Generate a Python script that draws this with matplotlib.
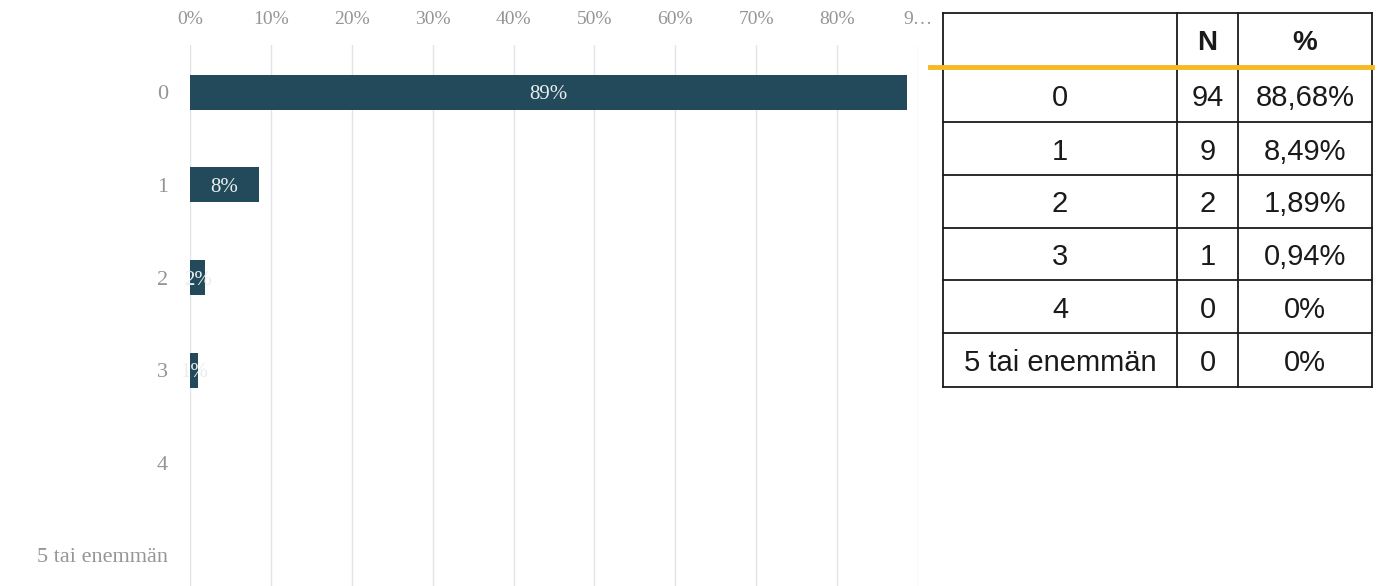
import matplotlib.pyplot as plt
from matplotlib.lines import Line2D

categories = ['0', '1', '2', '3', '4', '5 tai enemmän']
counts = [94, 9, 2, 1, 0, 0]
percents = [88.68, 8.49, 1.89, 0.94, 0, 0]
xticks = [0, 10, 20, 30, 40, 50, 60, 70, 80, 90]
xtick_labels = ['0%', '10%', '20%', '30%', '40%', '50%', '60%', '70%', '80%', '9…']
table_header = ['', 'N', '%']

W, H = 1378, 586
bar_color = '#234a5b'
label_gray = '#959595'
serif = ['Liberation Serif', 'DejaVu Serif']
sans = ['Liberation Sans', 'DejaVu Sans']

fig = plt.figure(figsize=(W / 100, H / 100), dpi=100)

# bar chart
ax = fig.add_axes([190 / W, 0, (918 - 190) / W, 1 - 45 / H])
ypos = list(range(len(categories)))
bars = ax.barh(ypos, percents, height=0.38, color=bar_color, zorder=3)
ax.set_xlim(0, 90)
ax.set_ylim(5.33, -0.51)
ax.set_xticks(xticks)
ax.set_xticklabels(xtick_labels, family=serif, fontsize=14, color=label_gray)
ax.set_yticks(ypos)
ax.set_yticklabels(categories, family=serif, fontsize=16, color=label_gray)
ax.xaxis.tick_top()
ax.tick_params(axis='x', length=0, pad=12)
ax.tick_params(axis='y', length=0, pad=16)
for s in ax.spines.values():
    s.set_visible(False)
ax.grid(axis='x', color='#e2e4ea', linewidth=1, zorder=0)
ax.axvline(0, color='#c9cdd8', linewidth=1.2, zorder=1)

for bar, v in zip(bars, percents):
    if v <= 0:
        continue
    t = ax.text(bar.get_x() + bar.get_width() / 2, bar.get_y() + bar.get_height() / 2,
                f'{round(v)}%', ha='center', va='center_baseline', color='#e8eef0',
                family=serif, fontsize=15, zorder=4)
    t.set_clip_path(bar)

# table drawn in pixel coordinates
tx = fig.add_axes([0, 0, 1, 1], facecolor='none')
tx.set_xlim(0, W)
tx.set_ylim(H, 0)
tx.axis('off')

col_edges = [943, 1177, 1238, 1372]
row_edges = [13, 67, 122, 175, 228, 280, 333, 387]
black = '#1a1a1a'

for x in col_edges:
    tx.add_line(Line2D([x, x], [row_edges[0], row_edges[-1]], color=black, lw=1.3))
for i, y in enumerate(row_edges):
    if i == 1:
        continue
    tx.add_line(Line2D([col_edges[0], col_edges[-1]], [y, y], color=black, lw=1.3))
tx.add_line(Line2D([930, col_edges[-1]], [row_edges[1], row_edges[1]],
                   color='#f6b923', lw=3.5))

col_centers = [(a + b) / 2 for a, b in zip(col_edges[:-1], col_edges[1:])]
row_centers = [(a + b) / 2 for a, b in zip(row_edges[:-1], row_edges[1:])]

for c, h in zip(col_centers, table_header):
    tx.text(c, row_centers[0], h, ha='center', va='center_baseline', family=sans,
            fontsize=20, fontweight='bold', color=black)

for r, (cat, n, p) in enumerate(zip(categories, counts, percents)):
    ptxt = '0%' if p == 0 else f'{p:.2f}'.replace('.', ',') + '%'
    for c, txt in zip(col_centers, [cat, str(n), ptxt]):
        tx.text(c, row_centers[r + 1], txt, ha='center', va='center_baseline',
                family=sans, fontsize=21, color=black)

fig.savefig('out.png', dpi=100)
